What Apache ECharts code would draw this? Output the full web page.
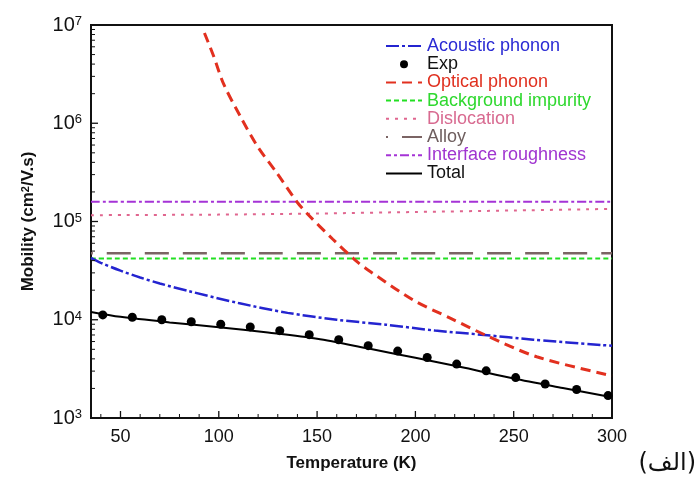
<!DOCTYPE html>
<html>
<head>
<meta charset="utf-8">
<script src="https://cdn.jsdelivr.net/npm/echarts@6/dist/echarts.min.js"></script>
<style>html,body{margin:0;padding:0;background:#fff;}#c{width:697px;height:489px;}</style>
</head>
<body>
<div id="c"></div>
<script>
// ---- data ----
const expT = [41, 56, 71, 86, 101, 116, 131, 146, 161, 176, 191, 206, 221, 236, 251, 266, 282, 298];
const expMob = [11200, 10600, 10000, 9550, 9000, 8450, 7750, 7050, 6250, 5450, 4800, 4130, 3540, 3020, 2580, 2220, 1950, 1690];

const totalT = [35, 50, 75, 100, 125, 150, 175, 200, 225, 250, 275, 300];
const totalMob = [12000, 10700, 9400, 8400, 7400, 6400, 5150, 4100, 3250, 2520, 2020, 1630];

const acoT = [35, 40, 50, 60, 70, 85, 110, 135, 160, 185, 210, 235, 260, 300];
const acoMob = [42700, 38000, 31600, 26900, 23400, 19500, 14800, 11750, 10000, 8900, 7760, 7000, 6270, 5430];

const optT = [92.7, 97.4, 102.5, 111, 119.5, 129.6, 139.8, 145, 158, 170.3, 177, 199, 217.7, 235.5, 261.7, 300];
const optMob = [8.3e6, 4.8e6, 2.5e6, 1.17e6, 5.9e5, 3.1e5, 1.58e5, 1.2e5, 6.6e4, 3.9e4, 3.1e4, 1.58e4, 1.04e4, 7000, 4200, 2690];

const bgT = [35, 300];
const bgMob = [41900, 41900];

const disT = [35, 100, 150, 200, 250, 300];
const disMob = [116000, 117500, 120500, 125000, 129500, 134500];

const alloyT = [35, 300];
const alloyMob = [47400, 47400];

const irT = [35, 300];
const irMob = [159000, 159000];

// tick values
const xLabelVals = [50, 100, 150, 200, 250, 300];
const xMinorVals = [40, 60, 70, 80, 90, 110, 120, 130, 140, 160, 170, 180, 190, 210, 220, 230, 240, 260, 270, 280, 290];
const yLabelVals = [1e3, 1e4, 1e5, 1e6, 1e7];
const yMinorMultipliers = [2, 3, 4, 5, 6, 7, 8, 9];
const yDecades = [1e3, 1e4, 1e5, 1e6];

const names = ['Acoustic phonon', 'Exp', 'Optical phonon', 'Background impurity', 'Dislocation', 'Alloy', 'Interface roughness', 'Total'];
const colors = {
  'Acoustic phonon': '#2424d0',
  'Exp': '#000000',
  'Optical phonon': '#e2301f',
  'Background impurity': '#22e022',
  'Dislocation': '#e0668f',
  'Alloy': '#7b6464',
  'Interface roughness': '#a533d6',
  'Total': '#000000'
};
const textColors = {
  'Acoustic phonon': '#2a2ad4',
  'Exp': '#111111',
  'Optical phonon': '#e0301f',
  'Background impurity': '#2ed82e',
  'Dislocation': '#d86a90',
  'Alloy': '#6e5e5e',
  'Interface roughness': '#a035d0',
  'Total': '#111111'
};

function pairs(xs, ys) { return xs.map(function (x, i) { return [x, ys[i]]; }); }

function lineSeries(name, xs, ys, width, type, extra) {
  return {
    name: name, type: 'line', data: pairs(xs, ys), symbol: 'none', smooth: 0.3,
    lineStyle: Object.assign({ color: colors[name], width: width, type: type }, extra || {}),
    itemStyle: { color: colors[name] }, z: 3, animation: false
  };
}

// tick data built from the tick value arrays
const xTickData = xLabelVals.map(function (v) { return [v, 1e3, 7]; })
  .concat(xMinorVals.map(function (v) { return [v, 1e3, 4]; }));
const yTickData = yLabelVals.map(function (v) { return [35, v, 7]; });
yDecades.forEach(function (d) { yMinorMultipliers.forEach(function (k) { yTickData.push([35, d * k, 4]); }); });

const chart = echarts.init(document.getElementById('c'));
const font = 'Liberation Sans, Arial, sans-serif';

const option = {
  backgroundColor: '#ffffff',
  animation: false,
  grid: { left: 91, right: 85, top: 25, bottom: 71, show: true, borderColor: '#111', borderWidth: 2, backgroundColor: 'transparent' },
  legend: {
    orient: 'vertical', left: 385, top: 37, padding: 0, itemWidth: 36, itemHeight: 10, itemGap: 0.2,
    textStyle: { fontFamily: font, fontSize: 18, lineHeight: 18 },
    data: names.map(function (n) {
      const d = { name: n, textStyle: { color: textColors[n] } };
      if (n !== 'Exp') d.itemStyle = { opacity: 0 };
      return d;
    })
  },
  xAxis: {
    type: 'value', min: 35, max: 300, position: 'bottom',
    name: 'Temperature (K)', nameLocation: 'middle', nameGap: 37,
    nameTextStyle: { fontFamily: font, fontSize: 17, fontWeight: 'bold', color: '#111' },
    axisLine: { show: true, lineStyle: { color: '#111', width: 2 } },
    axisTick: { show: false },
    axisLabel: { customValues: xLabelVals, margin: 10, fontFamily: font, fontSize: 18, color: '#111' },
    splitLine: { show: false }
  },
  yAxis: {
    type: 'log', min: 1e3, max: 1e7, logBase: 10, position: 'left',
    name: '{a|Mobility (cm}{s|2}{a|/V.s)}', nameLocation: 'middle', nameGap: 54,
    nameTextStyle: {
      color: '#111',
      rich: {
        a: { fontFamily: font, fontSize: 17, fontWeight: 'bold', color: '#111' },
        s: { fontFamily: font, fontSize: 11, fontWeight: 'bold', color: '#111', verticalAlign: 'top' }
      }
    },
    axisLine: { show: true, lineStyle: { color: '#111', width: 2 } },
    axisTick: { show: false },
    axisLabel: {
      customValues: yLabelVals, margin: 9,
      formatter: function (v) { return '{b|10}{s|' + Math.round(Math.log10(v)) + '}'; },
      rich: {
        b: { fontFamily: font, fontSize: 20, color: '#111' },
        s: { fontFamily: font, fontSize: 13, color: '#111', verticalAlign: 'top' }
      }
    },
    splitLine: { show: false }
  },
  series: [
    lineSeries('Interface roughness', irT, irMob, 2, [9, 3, 3, 3]),
    lineSeries('Dislocation', disT, disMob, 2, [3, 6]),
    lineSeries('Alloy', alloyT, alloyMob, 2.5, [24, 14], { dashOffset: 22 }),
    lineSeries('Background impurity', bgT, bgMob, 2, [5, 3]),
    lineSeries('Acoustic phonon', acoT, acoMob, 2.5, [13, 3, 3, 3]),
    lineSeries('Optical phonon', optT, optMob, 3, [10, 6]),
    lineSeries('Total', totalT, totalMob, 2, 'solid'),
    {
      name: 'Exp', type: 'line', data: pairs(expT, expMob), symbol: 'circle', symbolSize: 9, showSymbol: true,
      lineStyle: { opacity: 0, width: 0 }, itemStyle: { color: '#000' }, z: 5, animation: false
    },
    {
      type: 'custom', silent: true, z: 6, animation: false, clip: false,
      data: xTickData,
      renderItem: function (params, api) {
        const p = api.coord([api.value(0), api.value(1)]);
        const len = api.value(2);
        return { type: 'line', shape: { x1: p[0], y1: p[1], x2: p[0], y2: p[1] - len }, style: { stroke: '#111', lineWidth: len > 5 ? 1.3 : 1 } };
      }
    },
    {
      type: 'custom', silent: true, z: 6, animation: false, clip: false,
      data: yTickData,
      renderItem: function (params, api) {
        const p = api.coord([api.value(0), api.value(1)]);
        const len = api.value(2);
        return { type: 'line', shape: { x1: p[0], y1: p[1], x2: p[0] + len, y2: p[1] }, style: { stroke: '#111', lineWidth: len > 5 ? 1.3 : 1 } };
      }
    }
  ],
  graphic: [
    {
      type: 'text', right: 1, top: 452, z: 10,
      style: { text: '(الف)', fontFamily: 'DejaVu Sans, Noto Sans, sans-serif', fontSize: 24, fill: '#111' }
    }
  ]
};
chart.setOption(option);
</script>
</body>
</html>
